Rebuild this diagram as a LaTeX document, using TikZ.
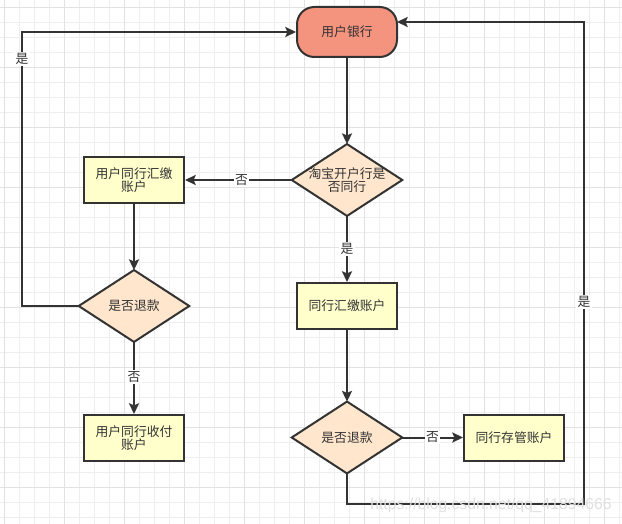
\documentclass[tikz,border=0pt]{standalone}
\usepackage{fontspec}
\setmainfont{Noto Sans CJK SC}
\newfontfamily\wmfont{Liberation Sans}
\usetikzlibrary{arrows.meta}
\definecolor{ln}{HTML}{333333}
\definecolor{gmin}{HTML}{EEEEEE}
\definecolor{gmaj}{HTML}{E2E2E2}
\definecolor{salmon}{HTML}{F4937E}
\definecolor{boxy}{HTML}{FFFFCC}
\definecolor{dia}{HTML}{FFE6CC}
\tikzset{
  px/.style={x=0.75pt,y=-0.75pt},
  txt/.style={font=\fontsize{9.6}{10}\selectfont, text=ln, align=center, inner sep=0pt},
  procbox/.style={txt, draw=ln, line width=1.5pt, fill=boxy, minimum width=75pt, minimum height=34.5pt},
  startbox/.style={txt, draw=ln, line width=1.5pt, fill=salmon, minimum width=75pt, minimum height=37.5pt, rounded corners=13pt},
  diabase/.style={txt, minimum width=82.5pt, minimum height=53.5pt},
  diafill/.style={draw=ln, line width=1.5pt, fill=dia, line join=miter},
  conn/.style={draw=ln, line width=1.5pt, -{Stealth[length=8pt,width=7.5pt,inset=1.5pt]}},
  lbl/.style={txt, fill=white, inner sep=1pt},
}
\begin{document}
\begin{tikzpicture}[px]
\useasboundingbox (0,0) rectangle (622,524);
% grid
\foreach \k in {0,...,41} {
  \draw[gmin, line width=0.75pt] ({4.3+15*\k},0) -- ({4.3+15*\k},524);
}
\foreach \k in {0,...,34} {
  \draw[gmin, line width=0.75pt] (0,{7.3+15*\k}) -- (622,{7.3+15*\k});
}
\foreach \k in {0,...,10} {
  \draw[gmaj, line width=0.75pt] ({4.3+60*\k},0) -- ({4.3+60*\k},524);
}
\foreach \k in {0,...,8} {
  \draw[gmaj, line width=0.75pt] (0,{7.3+60*\k}) -- (622,{7.3+60*\k});
}
% nodes
\node[startbox] (t) at (347,32) {用户银行};
\node[procbox] (b1) at (134,180) {用户同行汇缴\\账户};
\node[procbox] (b2) at (134,438) {用户同行收付\\账户};
\node[procbox] (b3) at (347,306) {同行汇缴账户};
\node[procbox] (b4) at (514,437.5) {同行存管账户};
\node[diabase] (d1) at (347,180) {};
\node[diabase] (d2) at (134,306) {};
\node[diabase] (d3) at (347,437.5) {};
\foreach \d in {d1,d2,d3} {
  \path[diafill] (\d.north) -- (\d.east) -- (\d.south) -- (\d.west) -- cycle;
}
\node[txt] at (d1) {淘宝开户行是\\否同行};
\node[txt] at (d2) {是否退款};
\node[txt] at (d3) {是否退款};
% coordinates
\coordinate (lc1) at (22,306);
\coordinate (lc2) at (22,32);
\coordinate (rc0) at (347,504);
\coordinate (rc1) at (584,504);
\coordinate (rc2) at (584,22);
\coordinate (rin) at (397,22);
% connectors
\draw[conn] (t.south) -- (d1.north);
\draw[conn] (d1.west) -- node[lbl, pos=0.47] {否} (b1.east);
\draw[conn] (b1.south) -- (d2.north);
\draw[conn] (d2.west) -- (lc1) -- node[lbl, pos=0.9] {是} (lc2) -- (t.west);
\draw[conn] (d2.south) -- node[lbl, pos=0.49] {否} (b2.north);
\draw[conn] (d1.south) -- node[lbl, pos=0.5] {是} (b3.north);
\draw[conn] (b3.south) -- (d3.north);
\draw[conn] (d3.east) -- node[lbl, pos=0.5] {否} (b4.west);
\draw[conn] (d3.south) -- (rc0) -- (rc1) -- node[lbl, pos=0.42] {是} (rc2) -- (rin);
% watermark
\node[font=\wmfont\fontsize{11.8}{13}\selectfont, text=gray!25, inner sep=0pt] (wm) at (491,505) {https://blog.csdn.net/qq\_41894666};
\end{tikzpicture}
\end{document}
